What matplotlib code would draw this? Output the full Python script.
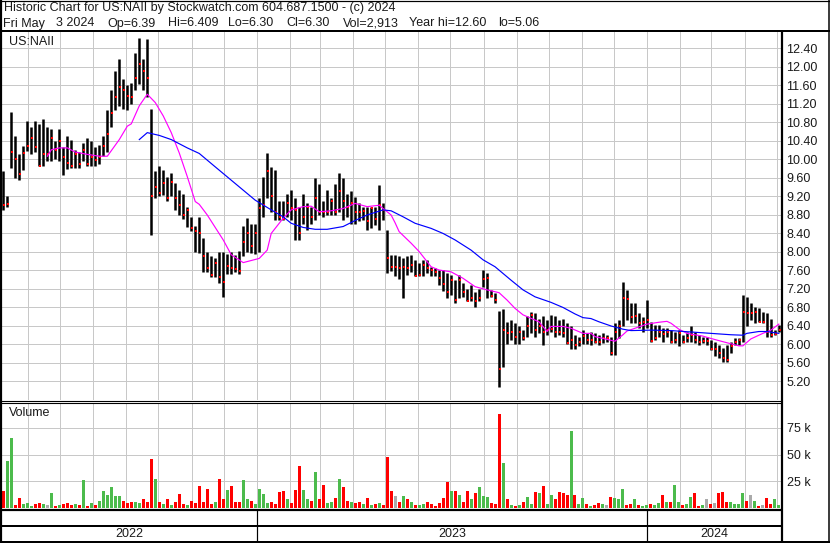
import datetime as dt
import numpy as np
import matplotlib
matplotlib.use("Agg")
import matplotlib.pyplot as plt
import matplotlib.dates as mdates
from matplotlib.lines import Line2D

plt.rcParams['font.family'] = ['Liberation Sans', 'DejaVu Sans']

# ---------------- data ----------------
header_line1 = "Historic Chart for US:NAII by Stockwatch.com 604.687.1500 - (c) 2024"
header_line2 = "Fri May  3 2024  Op=6.39  Hi=6.409  Lo=6.30  Cl=6.30  Vol=2,913  Year hi=12.60  lo=5.06"
symbol = "US:NAII"
first_bar_date = "2022-05-09"
last_bar_date = "2024-05-03"

high = [9.75, 9.20, 11.02, 10.50, 10.10, 10.28, 10.82, 10.70, 10.82, 10.75,
        10.86, 10.70, 10.65, 10.40, 10.65, 10.25, 10.50, 10.42, 10.20, 10.15,
        10.35, 10.45, 10.40, 10.25, 10.30, 10.50, 11.05, 11.50, 11.90, 12.17,
        11.73, 11.60, 11.65, 12.30, 12.62, 12.17, 12.60, 11.08, 9.75, 9.84,
        9.77, 9.62, 9.70, 9.48, 9.33, 9.25, 8.97, 8.75, 8.55, 8.75,
        8.30, 8.00, 7.90, 7.85, 7.98, 8.00, 7.95, 8.00, 7.93, 8.02,
        8.55, 8.73, 8.60, 8.60, 9.15, 9.62, 10.12, 9.83, 9.76, 9.10,
        9.10, 9.25, 9.33, 9.15, 8.97, 9.25, 9.05, 8.97, 9.60, 9.47,
        9.10, 9.33, 9.15, 9.47, 9.70, 9.58, 9.25, 9.30, 9.18, 9.04,
        8.97, 8.97, 8.97, 8.97, 9.44, 9.04, 8.47, 7.93, 7.93, 7.90,
        7.85, 7.90, 7.93, 7.82, 7.75, 7.82, 7.82, 7.67, 7.64, 7.60,
        7.60, 7.53, 7.50, 7.38, 7.50, 7.31, 7.20, 7.28, 7.13, 7.20,
        7.60, 7.53, 7.17, 7.10, 6.72, 6.75, 6.48, 6.52, 6.45, 6.38,
        6.30, 6.60, 6.70, 6.67, 6.55, 6.60, 6.52, 6.63, 6.60, 6.52,
        6.55, 6.45, 6.38, 6.20, 6.16, 6.30, 6.23, 6.27, 6.23, 6.20,
        6.23, 6.20, 6.16, 6.45, 6.52, 7.35, 7.17, 6.88, 6.88, 6.66,
        6.59, 6.95, 6.48, 6.41, 6.41, 6.34, 6.34, 6.30, 6.27, 6.30,
        6.20, 6.27, 6.38, 6.27, 6.20, 6.16, 6.16, 6.09, 6.05, 5.98,
        5.91, 5.98, 6.05, 6.12, 6.12, 7.06, 7.02, 6.88, 6.80, 6.77,
        6.70, 6.66, 6.55, 6.30, 6.41]

low = [8.90, 8.97, 9.80, 9.60, 9.55, 9.77, 10.17, 10.10, 10.15, 9.85,
       9.84, 9.95, 9.95, 10.00, 9.95, 9.65, 9.78, 9.80, 9.80, 9.80,
       9.95, 9.85, 9.85, 9.85, 9.90, 10.06, 10.15, 10.70, 11.05, 11.15,
       11.08, 11.05, 11.18, 11.50, 11.62, 11.50, 11.35, 8.35, 9.15, 9.20,
       9.23, 9.10, 9.20, 8.90, 8.78, 8.70, 8.53, 8.45, 8.00, 7.96,
       7.55, 7.55, 7.45, 7.45, 7.32, 7.02, 7.52, 7.52, 7.56, 7.52,
       7.90, 8.00, 7.96, 7.95, 8.00, 8.75, 9.15, 8.86, 8.68, 8.68,
       8.68, 8.75, 8.68, 8.25, 8.25, 8.60, 8.47, 8.60, 8.68, 8.80,
       8.75, 8.78, 8.80, 8.80, 8.86, 8.68, 8.75, 8.60, 8.60, 8.65,
       8.68, 8.47, 8.50, 8.57, 8.47, 8.68, 7.53, 7.57, 7.46, 7.40,
       7.00, 7.50, 7.55, 7.46, 7.48, 7.46, 7.53, 7.46, 7.46, 7.28,
       7.15, 7.00, 7.06, 6.88, 6.99, 7.02, 6.92, 6.92, 6.80, 6.92,
       7.24, 7.00, 7.02, 6.88, 5.06, 5.50, 6.00, 6.08, 6.00, 6.00,
       6.08, 6.16, 6.23, 6.16, 6.23, 5.98, 6.20, 6.27, 6.16, 6.20,
       6.16, 6.00, 5.90, 5.90, 5.95, 6.00, 6.00, 5.98, 6.02, 5.98,
       6.02, 6.05, 5.76, 5.76, 6.12, 6.38, 6.52, 6.45, 6.45, 6.34,
       6.27, 6.34, 6.05, 6.09, 6.16, 6.05, 6.16, 6.02, 6.02, 5.95,
       6.02, 6.05, 6.05, 6.02, 5.98, 6.02, 5.98, 5.87, 5.73, 5.70,
       5.62, 5.62, 5.80, 5.98, 5.98, 6.05, 6.38, 6.52, 6.45, 6.48,
       6.45, 6.16, 6.16, 6.20, 6.27]

close = [9.00, 9.02, 10.15, 10.00, 9.67, 10.13, 10.28, 10.45, 10.25, 9.85,
         10.10, 10.10, 10.45, 10.20, 10.40, 10.05, 9.92, 9.85, 10.10, 9.90,
         10.20, 9.90, 10.05, 9.98, 10.05, 10.28, 10.55, 11.00, 11.35, 11.55,
         11.50, 11.37, 11.35, 11.75, 12.05, 11.90, 11.75, 9.20, 9.40, 9.26,
         9.48, 9.15, 9.50, 9.15, 9.00, 8.80, 8.90, 8.50, 8.45, 8.40,
         7.90, 7.65, 7.50, 7.75, 7.45, 7.35, 7.68, 7.65, 7.62, 7.58,
         8.20, 8.40, 8.12, 8.40, 8.95, 9.00, 9.73, 9.20, 8.85, 8.75,
         8.70, 9.04, 8.95, 8.90, 8.40, 8.75, 8.97, 8.75, 9.15, 8.86,
         8.85, 8.86, 9.10, 8.85, 9.30, 9.10, 8.97, 9.05, 8.86, 8.85,
         8.88, 8.65, 8.93, 8.70, 9.00, 8.90, 7.85, 7.67, 7.67, 7.64,
         7.67, 7.64, 7.70, 7.48, 7.50, 7.71, 7.64, 7.60, 7.55, 7.42,
         7.30, 7.13, 7.38, 6.95, 7.38, 7.13, 6.92, 7.00, 6.92, 7.00,
         7.40, 7.42, 7.04, 6.95, 5.45, 6.30, 6.23, 6.27, 6.16, 6.27,
         6.12, 6.38, 6.63, 6.30, 6.38, 6.27, 6.30, 6.33, 6.27, 6.25,
         6.23, 6.03, 6.08, 5.98, 6.05, 6.17, 6.08, 6.09, 6.05, 6.04,
         6.12, 6.12, 5.80, 6.27, 6.40, 7.00, 6.98, 6.59, 6.60, 6.45,
         6.48, 6.52, 6.06, 6.12, 6.27, 6.22, 6.27, 6.05, 6.09, 6.23,
         6.05, 6.12, 6.20, 6.09, 6.05, 6.06, 6.06, 5.90, 5.90, 5.80,
         5.69, 5.66, 5.95, 6.05, 6.09, 6.70, 6.66, 6.66, 6.70, 6.48,
         6.48, 6.27, 6.20, 6.22, 6.30]

volume_k = [15.7, 44.5, 66, 3, 9, 4, 5, 2, 4, 5,
            4, 3, 14, 2, 3, 4, 5, 3, 4, 3,
            26, 2, 5, 3, 7, 16, 12, 20, 11, 11,
            7, 5, 6, 6, 5, 8, 6, 46, 27, 6,
            4, 8, 3, 6, 13, 4, 3, 7, 5, 21,
            6, 18, 4, 6, 27, 8, 17, 21, 6, 6,
            26, 8, 7, 4, 18, 13, 5, 6, 4, 15,
            16, 8, 5, 17, 39, 17, 8, 7, 34, 8,
            22, 5, 6, 9, 27, 19.5, 7, 6, 5, 6,
            4, 9, 3, 4, 5, 3, 48, 16, 11, 6,
            11, 8, 6, 3, 3, 4, 6, 4, 2, 5,
            9, 24, 16, 16, 12, 6, 16, 8, 14, 19.5,
            11, 10, 5, 4, 88, 42, 8, 3, 2, 3,
            6, 10, 4, 15, 14, 20.5, 4, 12, 8, 15,
            14, 12.5, 72, 12, 4, 9, 4, 2, 3, 5,
            4, 3, 10, 9, 8, 17.5, 3, 4, 8, 3,
            2, 3, 4, 3, 5, 12.5, 6, 6, 22, 6,
            3, 4, 10, 14, 2, 3, 8, 4, 5, 14,
            15, 6, 6, 4, 4, 14, 7, 12, 7, 2,
            3, 9, 4, 8, 3]

# moving averages: bar index -> value
ma_fast_idx = [11, 12, 14, 16, 18, 21, 24, 26, 29, 31, 32, 34, 36, 38, 40, 42, 44, 46, 48, 49,
               51, 55, 57, 60, 64, 66, 67, 70, 72, 75, 77, 79, 82, 85, 88, 91, 94, 96, 97, 98,
               99, 102, 104, 107, 109, 112, 115, 118, 121, 124, 126, 128, 130, 134, 136, 137, 140, 142, 145, 147,
               148, 150, 153, 155, 156, 159, 161, 164, 166, 167, 169, 171, 175, 177, 180, 184, 185, 187, 190, 192, 194]
ma_fast_val = [10.06, 10.20, 10.24, 10.24, 10.15, 10.10, 10.06, 10.06, 10.42, 10.71, 10.76, 11.15, 11.40, 11.22, 10.93, 10.57, 10.13, 9.62, 9.08, 9.02,
               8.79, 8.25, 7.93, 7.76, 7.85, 8.03, 8.39, 8.72, 8.90, 8.97, 8.98, 8.86, 8.88, 8.93, 9.04, 8.97, 9.00, 8.86, 8.79, 8.62,
               8.43, 8.18, 8.00, 7.67, 7.60, 7.56, 7.42, 7.24, 7.17, 7.11, 6.95, 6.77, 6.63, 6.48, 6.27, 6.38, 6.38, 6.34, 6.23, 6.23,
               6.16, 6.12, 6.06, 6.20, 6.28, 6.37, 6.43, 6.47, 6.49, 6.45, 6.32, 6.23, 6.17, 6.12, 6.05, 5.96, 5.96, 6.11, 6.23, 6.30, 6.43]

ma_slow_idx = [34, 36, 39, 42, 46, 48, 49, 53, 58, 63, 67, 70, 72, 75, 78, 81, 85, 88, 91, 95,
               97, 100, 103, 107, 110, 113, 117, 120, 123, 127, 130, 133, 137, 140, 143, 145, 147, 149, 152, 155,
               157, 162, 167, 172, 177, 182, 185, 186, 189, 191, 194]
ma_slow_val = [10.42, 10.57, 10.51, 10.42, 10.24, 10.16, 10.12, 9.83, 9.47, 9.11, 8.90, 8.75, 8.61, 8.52, 8.48, 8.48, 8.54, 8.67, 8.79, 8.90,
               8.88, 8.75, 8.61, 8.50, 8.39, 8.25, 8.03, 7.82, 7.67, 7.38, 7.17, 7.02, 6.90, 6.79, 6.65, 6.57, 6.55, 6.48, 6.39, 6.32,
               6.29, 6.30, 6.29, 6.26, 6.23, 6.20, 6.19, 6.23, 6.27, 6.27, 6.23]

price_ticks = [5.20, 5.60, 6.00, 6.40, 6.80, 7.20, 7.60, 8.00, 8.40, 8.80,
               9.20, 9.60, 10.00, 10.40, 10.80, 11.20, 11.60, 12.00, 12.40]
volume_ticks_k = [25, 50, 75]
year_labels = ["2022", "2023", "2024"]

# ---------------- layout helpers (pixel space) ----------------
W, H = 830, 543
fig = plt.figure(figsize=(W / 100, H / 100), dpi=100)
fig.patch.set_facecolor('white')


def fx(px):
    return px / W


def fy(py):
    return 1 - py / H


def rect(l, t, r, b):
    return [fx(l), fy(b), fx(r) - fx(l), fy(t) - fy(b)]


def hline(y, x0, x1, lw=1.0, color='black'):
    fig.add_artist(Line2D([fx(x0), fx(x1)], [fy(y), fy(y)], transform=fig.transFigure,
                          color=color, lw=lw * 0.72, solid_capstyle='butt'))


def vline(x, y0, y1, lw=1.0, color='black'):
    fig.add_artist(Line2D([fx(x), fx(x)], [fy(y0), fy(y1)], transform=fig.transFigure,
                          color=color, lw=lw * 0.72, solid_capstyle='butt'))


TXT = '#1a1a1a'
GRID = '#c8c8c8'
FS = 9

n = min(len(high), len(low), len(close), len(volume_k))
high = np.array(high[:n]); low = np.array(low[:n]); close = np.array(close[:n])
vol = np.array(volume_k[:n])

d_first = mdates.date2num(dt.datetime.fromisoformat(first_bar_date))
d_last = mdates.date2num(dt.datetime.fromisoformat(last_bar_date))
xs = np.linspace(d_first, d_last, n)
x_left = mdates.date2num(dt.datetime(2022, 5, 7, 17))
x_right = mdates.date2num(dt.datetime(2024, 5, 5))
px_per_day = (781 - 2) / (x_right - x_left)

months = []
for y in (2022, 2023, 2024):
    for m in range(1, 13):
        d = mdates.date2num(dt.datetime(y, m, 1))
        if x_left < d < x_right:
            months.append(d)

# ---------------- price panel ----------------
ax = fig.add_axes(rect(2, 32, 781, 400))
ax.set_xlim(x_left, x_right)
ax.set_ylim(12.40 - (400 - 48) / 46.25, 12.40 + (48 - 32) / 46.25)
for s in ax.spines.values():
    s.set_visible(False)
for t in price_ticks:
    ax.axhline(t, color=GRID, lw=0.72, zorder=0)
for d in months:
    ax.axvline(d, color=GRID, lw=0.72, zorder=0)

ax.vlines(xs, low, high, color='black', lw=1.8, zorder=2)
ax.plot(xs + 0.9 / px_per_day, close, linestyle='none', marker='s', ms=1.8,
        mew=0, color='#ff0000', zorder=3)

fi = np.array(ma_fast_idx); si = np.array(ma_slow_idx)
ax.plot(np.interp(fi, np.arange(n), xs), ma_fast_val, color='#ff00ff', lw=0.85, zorder=4)
ax.plot(np.interp(si, np.arange(n), xs), ma_slow_val, color='#0000ff', lw=0.85, zorder=4)

ax.set_xticks([])
ax.yaxis.tick_right()
ax.set_yticks(price_ticks)
ax.set_yticklabels([f"{t:.2f}" for t in price_ticks])
ax.tick_params(axis='y', length=0, pad=4, labelsize=FS, labelcolor=TXT)
ax.text(7 / 779, 1 - (42 - 32) / 368, symbol, transform=ax.transAxes, fontsize=FS,
        color=TXT, va='center', ha='left')

# ---------------- volume panel ----------------
axv = fig.add_axes(rect(2, 403, 781, 508))
axv.set_xlim(x_left, x_right)
axv.set_ylim(0, 105 / 1.0667)
for s in axv.spines.values():
    s.set_visible(False)
for t in volume_ticks_k:
    axv.axhline(t, color=GRID, lw=0.72, zorder=0)
for d in months:
    axv.axvline(d, color=GRID, lw=0.72, zorder=0)

colors = []
for i in range(n):
    if i == 0 or close[i] < close[i - 1]:
        colors.append('#ff0000')
    elif close[i] > close[i - 1]:
        colors.append('#4cbb4c')
    else:
        colors.append('#aaaaaa')
axv.bar(xs, vol, width=3.0 / px_per_day, color=colors, linewidth=0, zorder=2)
axv.set_xticks([])
axv.yaxis.tick_right()
axv.set_yticks(volume_ticks_k)
axv.set_yticklabels([f"{t} k" for t in volume_ticks_k])
axv.tick_params(axis='y', length=0, pad=4, labelsize=FS, labelcolor=TXT)
axv.text(7 / 779, 1 - (413 - 403) / 105, "Volume", transform=axv.transAxes, fontsize=FS,
         color=TXT, va='center', ha='left')

# ---------------- header ----------------
fig.text(fx(4), fy(8.5), header_line1, fontsize=FS, color=TXT, va='center', ha='left')
line2_fields = header_line2.split("  ")
line2_x = [3, 56, 107, 168, 228, 286, 343, 409, 498]
for fld, px in zip(line2_fields, line2_x):
    fig.text(fx(px), fy(23.5), fld, fontsize=FS, color=TXT, va='center', ha='left')

# ---------------- year band ----------------
def to_px(d):
    return 2 + (d - x_left) * px_per_day


year_edges = [x_left, mdates.date2num(dt.datetime(2023, 1, 1)),
              mdates.date2num(dt.datetime(2024, 1, 1)), x_right]
for k, lab in enumerate(year_labels):
    cx = (to_px(year_edges[k]) + to_px(year_edges[k + 1])) / 2
    fig.text(fx(cx), fy(534), lab, fontsize=FS, color=TXT, ha='center', va='center')
for d in year_edges[1:-1]:
    vline(to_px(d), 510, 541, lw=1.2)

# ---------------- frame lines ----------------
hline(0.5, 0, 830, lw=1.2)
hline(31, 0, 830, lw=2)
vline(1, 0, 543, lw=2.2)
vline(829, 0, 543, lw=1.5)
hline(541.5, 0, 830, lw=2)
hline(400.5, 0, 781, lw=1.1)
hline(403, 0, 781, lw=1.1)
vline(781.5, 31, 542, lw=2.2)
hline(509.5, 0, 781, lw=2.2)
hline(526, 0, 781, lw=2)

fig.savefig("out.png", dpi=100, facecolor='white')
